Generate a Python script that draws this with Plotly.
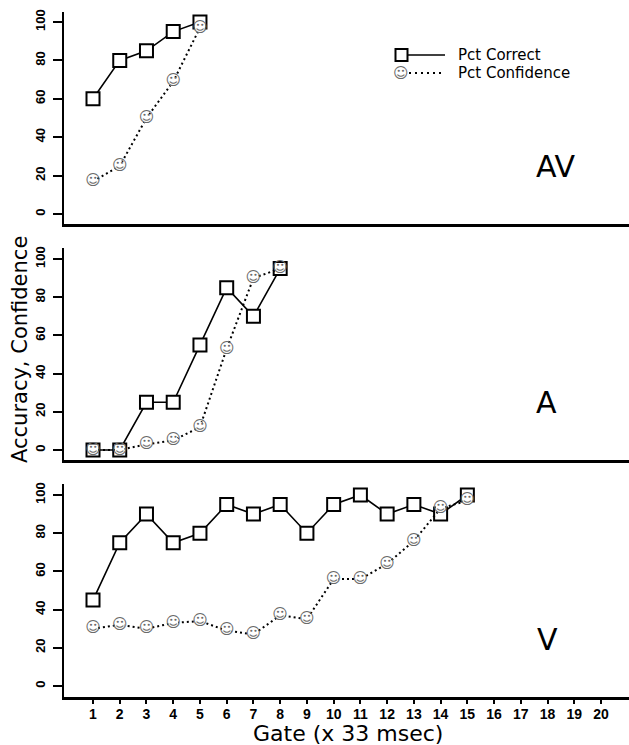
import plotly.graph_objects as go

# ---------------- data ----------------
gates = list(range(1, 21))
gate_labels = [str(g) for g in gates]
y_ticks = [0, 20, 40, 60, 80, 100]

av_gates = [1, 2, 3, 4, 5]
av_correct = [60, 80, 85, 95, 100]
av_conf = [17, 25, 50, 69, 97]

a_gates = [1, 2, 3, 4, 5, 6, 7, 8]
a_correct = [0, 0, 25, 25, 55, 85, 70, 95]
a_conf = [0, 0, 3, 5, 12, 53, 90, 95]

v_gates = list(range(1, 16))
v_correct = [45, 75, 90, 75, 80, 95, 90, 95, 80, 95, 100, 90, 95, 90, 100]
v_conf = [30, 32, 30, 33, 34, 29, 27, 37, 35, 56, 56, 64, 76, 93, 97]

panel_names = ["AV", "A", "V"]
series_names = ["Pct Correct", "Pct Confidence"]
x_title = "Gate (x 33 msec)"
y_title = "Accuracy, Confidence"

# ---------------- layout geometry ----------------
W, H = 629, 745
ML, MR, MT, MB = 64, 0, 12, 48
PW, PH = W - ML - MR, H - MT - MB


def px2x(px):
    return (px - ML) / PW


def px2y(py):
    return (H - MB - py) / PH


SMILE = "\u263A"
SMILE_FONT = dict(family="DejaVu Sans", size=15, color="#6a6a6a")

fig = go.Figure()

panels = [
    (av_gates, av_correct, av_conf),
    (a_gates, a_correct, a_conf),
    (v_gates, v_correct, v_conf),
]
for i, (gx, corr, conf) in enumerate(panels):
    xa = "x" if i == 0 else f"x{i+1}"
    ya = "y" if i == 0 else f"y{i+1}"
    fig.add_trace(go.Scatter(
        x=gx, y=corr, name=series_names[0], mode="lines+markers",
        line=dict(color="black", width=1.6),
        marker=dict(symbol="square", size=13, color="white",
                    line=dict(color="black", width=2)),
        xaxis=xa, yaxis=ya, showlegend=False, cliponaxis=False))
    fig.add_trace(go.Scatter(
        x=gx, y=conf, name=series_names[1], mode="lines+markers+text",
        line=dict(color="black", width=2, dash="2px,3px"),
        marker=dict(symbol="circle", size=10, color="white",
                    line=dict(width=0)),
        text=[SMILE] * len(gx), textposition="middle center",
        textfont=SMILE_FONT,
        xaxis=xa, yaxis=ya, showlegend=False, cliponaxis=False))

# pixel extents for each panel (top, bottom) and y ranges
panel_px = [(12, 224), (248, 460), (484, 697)]
y_ranges = [[-5.21, 105.21], [-5.24, 105.76], [-5.76, 105.76]]
x_range = [-0.0845, 21.045]

ytickfont = dict(family="Liberation Sans", size=13, color="black", weight="bold")
xtickfont = dict(family="Liberation Sans", size=14, color="black", weight="bold")

layout = dict(
    width=W, height=H, autosize=False,
    margin=dict(l=ML, r=MR, t=MT, b=MB, pad=0, autoexpand=False),
    paper_bgcolor="white", plot_bgcolor="white",
    showlegend=False,
)
for i in range(3):
    xk = "xaxis" if i == 0 else f"xaxis{i+1}"
    yk = "yaxis" if i == 0 else f"yaxis{i+1}"
    top, bot = panel_px[i]
    last = i == 2
    layout[xk] = dict(
        domain=[0, 1], range=x_range, anchor="y" if i == 0 else f"y{i+1}",
        showline=True, linewidth=2.5, linecolor="black",
        showgrid=False, zeroline=False, automargin=False,
        tickmode="array", tickvals=gates, ticktext=gate_labels,
        ticks="outside" if last else "", ticklen=4, tickwidth=1.5,
        tickcolor="black",
        showticklabels=last, tickfont=xtickfont, tickangle=0,
        ticklabelstandoff=-2,
    )
    layout[yk] = dict(
        domain=[px2y(bot), px2y(top)], range=y_ranges[i],
        anchor="x" if i == 0 else f"x{i+1}",
        showline=True, linewidth=2, linecolor="black",
        showgrid=False, zeroline=False, automargin=False,
        tickmode="array", tickvals=y_ticks,
        ticks="outside", ticklen=9, tickwidth=1.5, tickcolor="black",
        tickfont=ytickfont, tickangle=-90, ticklabelstandoff=3,
    )
fig.update_layout(**layout)

annotations = []
# axis titles
annotations.append(dict(
    text=x_title, xref="paper", yref="paper", x=px2x(348), y=px2y(733),
    xanchor="center", yanchor="middle", showarrow=False,
    font=dict(family="DejaVu Sans", size=22, color="black")))
annotations.append(dict(
    text=y_title, xref="paper", yref="paper", x=px2x(20), y=px2y(350),
    xanchor="center", yanchor="middle", showarrow=False, textangle=-90,
    font=dict(family="DejaVu Sans", size=21, color="black")))
# panel labels
for name, (cx, cy) in zip(panel_names, [(556, 166), (546, 402), (547, 639)]):
    annotations.append(dict(
        text=name, xref="paper", yref="paper", x=px2x(cx), y=px2y(cy),
        xanchor="center", yanchor="middle", showarrow=False,
        font=dict(family="DejaVu Sans", size=30, color="black")))

# legend (drawn manually, top-right of first panel)
shapes = []
sq_cx, sq_cy, sq = 401.5, 55, 12
shapes.append(dict(type="line", xref="paper", yref="paper",
                   x0=px2x(sq_cx + sq / 2), x1=px2x(445),
                   y0=px2y(sq_cy), y1=px2y(sq_cy),
                   line=dict(color="black", width=1.6)))
shapes.append(dict(type="rect", xref="paper", yref="paper",
                   x0=px2x(sq_cx - sq / 2), x1=px2x(sq_cx + sq / 2),
                   y0=px2y(sq_cy + sq / 2), y1=px2y(sq_cy - sq / 2),
                   line=dict(color="black", width=2), fillcolor="white"))
sm_cx, sm_cy = 401, 73
shapes.append(dict(type="line", xref="paper", yref="paper",
                   x0=px2x(409), x1=px2x(445),
                   y0=px2y(sm_cy), y1=px2y(sm_cy),
                   line=dict(color="black", width=2, dash="2px,4px")))
annotations.append(dict(
    text=SMILE, xref="paper", yref="paper", x=px2x(sm_cx), y=px2y(sm_cy),
    xanchor="center", yanchor="middle", showarrow=False, font=SMILE_FONT))
for name, cy in zip(series_names, [sq_cy, sm_cy]):
    annotations.append(dict(
        text=name, xref="paper", yref="paper", x=px2x(456), y=px2y(cy),
        xanchor="left", yanchor="middle", showarrow=False,
        font=dict(family="DejaVu Sans", size=15, color="black")))

fig.update_layout(annotations=annotations, shapes=shapes)
fig.write_html(
    "out.html",
    config={"displayModeBar": False},
    post_script="document.body.style.margin='0';"
                "document.body.style.padding='0';"
                "document.body.style.overflow='hidden';",
)
